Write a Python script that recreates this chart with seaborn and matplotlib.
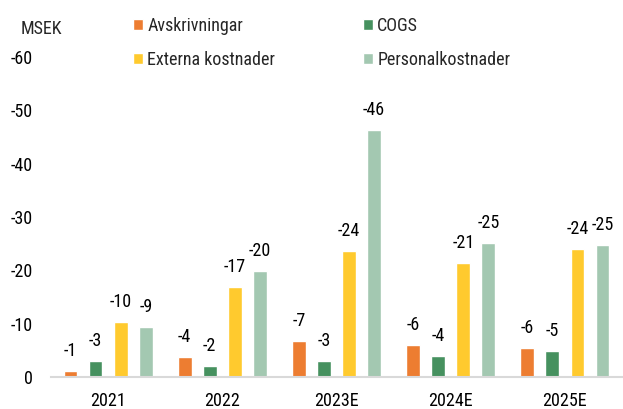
import matplotlib
matplotlib.use("Agg")
import matplotlib.pyplot as plt
import seaborn as sns
import pandas as pd
from matplotlib import font_manager

years = ["2021", "2022", "2023E", "2024E", "2025E"]
series = ["Avskrivningar", "COGS", "Externa kostnader", "Personalkostnader"]
avskrivningar = [-1.1, -3.8, -6.8, -6.0, -5.5]
cogs = [-3.0, -2.0, -3.0, -4.0, -4.9]
externa = [-10.3, -16.9, -23.6, -21.4, -24.0]
personal = [-9.4, -19.9, -46.3, -25.1, -24.8]
colors = ["#ED7D31", "#46915F", "#FFCA2E", "#A3C8B1"]
yticks = [0, -10, -20, -30, -40, -50, -60]

sns.set_theme(style="white")
avail = {f.name for f in font_manager.fontManager.ttflist}
fam = "Liberation Sans"
for cand in ["Roboto Condensed", "Liberation Sans"]:
    if cand in avail:
        fam = cand
        break
plt.rcParams["font.family"] = [fam, "DejaVu Sans"]
FS = 13

rows = []
for s, vals in zip(series, [avskrivningar, cogs, externa, personal]):
    for y, v in zip(years, vals):
        rows.append({"year": y, "series": s, "value": v})
df = pd.DataFrame(rows)

fig = plt.figure(figsize=(6.23, 4.09), dpi=100)
ax = fig.add_axes([51/623, 32/409, 571/623, 320/409])
sns.barplot(data=df, x="year", y="value", hue="series", hue_order=series,
            palette=colors, width=0.88, gap=0.45, ax=ax, saturation=1,
            errorbar=None, legend=True)

ax.set_ylim(0, -60)
ax.set_xlim(-0.5, 4.5)

for cont in ax.containers:
    for b in cont:
        v = b.get_height()
        ax.annotate(f"{v:.0f}", (b.get_x() + b.get_width() / 2, v),
                    xytext=(0, 8), textcoords="offset points",
                    ha="center", va="bottom", fontsize=FS, color="#000000")

ax.set_yticks(yticks)
ax.set_yticklabels([str(t) for t in yticks])
ax.tick_params(axis="y", length=0, pad=13, labelsize=FS, colors="#000000")
ax.tick_params(axis="x", length=0, pad=10.5, labelsize=FS, colors="#000000")
ax.set_xlabel("")
ax.set_ylabel("")
for s in ["left", "right", "top"]:
    ax.spines[s].set_visible(False)
ax.spines["bottom"].set_color("#D9D9D9")
ax.spines["bottom"].set_linewidth(1.5)

fig.text(21/623, 1 - 29.5/409, "MSEK", fontsize=FS, va="center", ha="left")

handles, labels = ax.get_legend_handles_labels()
ax.get_legend().remove()
order = [0, 2, 1, 3]
fig.legend([handles[i] for i in order], [labels[i] for i in order], ncol=2,
           loc="upper left", bbox_to_anchor=(133/623, 1 - 17/409),
           borderaxespad=0, borderpad=0,
           frameon=False, fontsize=FS, handlelength=0.55, handleheight=0.55,
           handletextpad=0.25, columnspacing=4.85, labelspacing=0.9)

fig.savefig("out.png", dpi=100)
